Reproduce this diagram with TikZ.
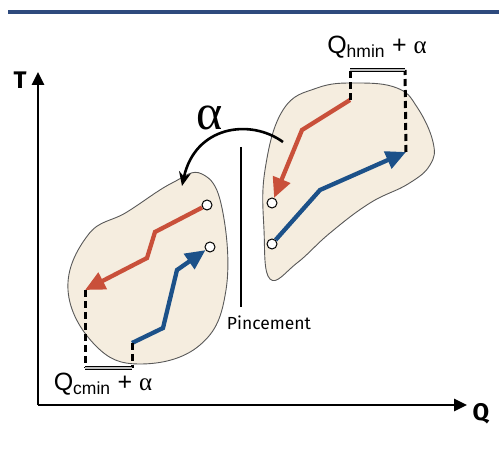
\documentclass[tikz,border=0pt]{standalone}
\usepackage{fontspec}
\setmainfont{Liberation Sans}
\newfontfamily\labelfont{Fira Sans}
\newfontfamily\greekfont{Liberation Serif}
\usetikzlibrary{arrows.meta, positioning}

\begin{document}
\begin{tikzpicture}[x=1pt, y=-1pt,
  blob/.style={draw=black!65, fill=blobbeige, line width=0.9pt},
  hotline/.style={line width=4.3pt, draw=hotred, -{Triangle[length=20pt,width=18pt]}},
  coldline/.style={line width=4.3pt, draw=coldblue, -{Triangle[length=20pt,width=18pt]}},
  endpt/.style={circle, draw=black, fill=white, line width=1pt, inner sep=0pt, minimum size=10pt},
  dashline/.style={line width=3pt, dash pattern=on 7pt off 4pt},
  gapline/.style={double=black!25, double distance=1.8pt, line width=0.8pt}]
  \definecolor{topblue}{HTML}{2E4A7D}
  \definecolor{blobbeige}{HTML}{F5EDDF}
  \definecolor{hotred}{HTML}{C9503A}
  \definecolor{coldblue}{HTML}{1C5189}

  \useasboundingbox (0,0) rectangle (499,449);
  \draw[topblue, line width=3.5pt] (8,12) -- (499,12);

  % axes
  \coordinate (origin) at (38,405);
  \coordinate (ttop) at (38,72);
  \coordinate (qend) at (467,405);
  \draw[line width=2.8pt, -{Triangle[length=13pt,width=12pt]}] (origin) -- (ttop);
  \draw[line width=2.8pt, -{Triangle[length=13pt,width=12pt]}] (origin) -- (qend);
  \node[font=\labelfont\bfseries\fontsize{24}{28}\selectfont] (tlabel) at (20,80) {T};
  \node[font=\labelfont\bfseries\fontsize{24}{28}\selectfont] (qlabel) at (481,414) {Q};

  % hot blob
  \draw[blob] plot[smooth cycle, tension=0.7] coordinates {(283,110) (317,88) (357,83) (397,88) (417,107) (433,142) (430,165) (408,184) (370,203) (330,233) (297,263) (270,279) (264,230) (265,170)};
  % cold blob
  \draw[blob] plot[smooth cycle, tension=0.7] coordinates {(202,174) (222,208) (226,290) (200,345) (140,364) (95,345) (68,290) (88,235) (127,212) (172,183)};

  % hot side
  \node[endpt] (hstart) at (272,203) {};
  \node[endpt] (cend) at (272,244) {};
  \coordinate (htop) at (350,100);
  \coordinate (hbend) at (302,130);
  \coordinate (ctop) at (406,152);
  \coordinate (cbend) at (320,190);
  \draw[hotline] (htop) -- (hbend) -- (hstart);
  \draw[coldline] (cend) -- (cbend) -- (ctop);
  \coordinate (hgapl) at (350,70);
  \coordinate (hgapr) at (405,70);
  \draw[dashline] (htop) -- (hgapl);
  \draw[dashline] (ctop) -- (hgapr);
  \draw[gapline] (hgapl) -- (hgapr);
  \node[font=\fontsize{25}{28}\selectfont] (hmin) at (377,47) {Q\textsubscript{hmin} + {\greekfont α}};

  % cold side
  \node[endpt] (rstart) at (207,205) {};
  \node[endpt] (bend) at (210,247) {};
  \coordinate (rbend1) at (155,232);
  \coordinate (rbend2) at (147,258);
  \coordinate (rtip) at (85,290);
  \coordinate (bstart) at (132,343);
  \coordinate (bbend1) at (163,328);
  \coordinate (bbend2) at (177,270);
  \draw[hotline] (rstart) -- (rbend1) -- (rbend2) -- (rtip);
  \draw[coldline] (bstart) -- (bbend1) -- (bbend2) -- (bend);
  \coordinate (cgapl) at (85,368);
  \coordinate (cgapr) at (132,368);
  \draw[dashline] (rtip) -- (cgapl);
  \draw[dashline] (bstart) -- (cgapr);
  \draw[gapline] (cgapl) -- (cgapr);
  \node[font=\fontsize{25}{28}\selectfont] (cmin) at (103,384) {Q\textsubscript{cmin} + {\greekfont α}};

  % pinch
  \coordinate (pinchtop) at (241,147);
  \coordinate (pinchbot) at (241,307);
  \draw[line width=1.5pt] (pinchtop) -- (pinchbot);
  \node[font=\labelfont\fontsize{17.5}{20}\selectfont] (pinch) at (269,323) {Pincement};

  \coordinate (shiftfrom) at (283,142);
  \coordinate (shiftto) at (182,186);
  \draw[line width=2.6pt, -{Stealth[length=14pt,width=12pt]}] (shiftfrom) .. controls (250,118) and (195,126) .. (shiftto);
  \node[font=\greekfont\fontsize{50}{54}\selectfont] (alphalabel) at (210,118) {α};
\end{tikzpicture}
\end{document}
